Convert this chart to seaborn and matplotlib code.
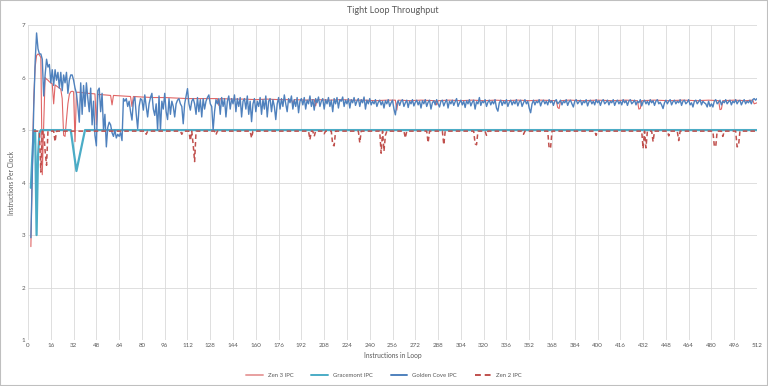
import matplotlib
matplotlib.use('Agg')
import matplotlib.pyplot as plt
import seaborn as sns
from matplotlib.patches import Rectangle

# Golden Cove IPC, one value per loop size starting at 2 instructions
golden_cove_ipc = [
    2.95, 4.2, 5.4, 6.3, 6.85, 6.55, 6.45, 6.45, 6.35, 5.65, 6.05, 6.35, 6.2, 6.25, 5.9, 6.15,
    5.85, 6.15, 5.95, 6.1, 5.8, 6.1, 5.75, 6.05, 5.9, 6.1, 5.7, 5.95, 6.05, 6.05, 5.95, 5.8,
    5.7, 5.45, 5.15, 5.9, 5.3, 5.85, 5.45, 5.9, 5.6, 5.35, 5.8, 5.1, 5.55, 4.9, 4.7, 5.75,
    5.8, 5.35, 5.7, 5.0, 5.3, 4.68, 5.05, 5.15, 5.1, 4.95, 4.88, 5.0, 4.85, 4.92, 4.88, 4.95,
    4.8, 5.6, 5.55, 5.6, 5.45, 5.55, 5.35, 5.19, 5.55, 5.63, 5.3, 5.03, 5.45, 5.6, 5.57, 5.38,
    5.67, 5.45, 5.25, 5.5, 5.62, 5.7, 5.4, 5.28, 5.5, 5.0, 5.65, 5.0, 5.55, 5.4, 5.7, 5.35,
    5.2, 5.6, 5.3, 5.55, 5.45, 5.25, 5.5, 5.57, 5.6, 5.5, 5.45, 5.12, 5.5, 5.65, 5.79, 5.5,
    5.38, 5.55, 5.6, 5.5, 5.3, 5.62, 5.35, 5.58, 5.25, 5.6, 5.4, 5.55, 5.62, 5.67, 5.5, 5.45,
    5.0, 5.35, 5.58, 5.5, 5.6, 5.3, 5.62, 5.45, 5.6, 5.25, 5.55, 5.65, 5.4, 5.6, 5.5, 5.67,
    5.35, 5.6, 5.45, 5.62, 5.25, 5.55, 5.6, 5.4, 5.65, 5.3, 5.55, 5.16, 5.5, 5.6, 5.35, 5.55,
    5.45, 5.62, 5.3, 5.58, 5.4, 5.65, 5.25, 5.55, 5.6, 5.35, 5.58, 5.45, 5.2, 5.5, 5.62, 5.4,
    5.6, 5.45, 5.67, 5.5, 5.35, 5.6, 5.52, 5.65, 5.4, 5.58, 5.45, 5.62, 5.33, 5.55, 5.6, 5.48,
    5.62, 5.4, 5.57, 5.5, 5.65, 5.45, 5.58, 5.38, 5.6, 5.52, 5.63, 5.45, 5.55, 5.6, 5.4, 5.58,
    5.5, 5.62, 5.45, 5.57, 5.35, 5.6, 5.5, 5.62, 5.42, 5.58, 5.55, 5.63, 5.45, 5.57, 5.5, 5.6,
    5.42, 5.58, 5.52, 5.62, 5.47, 5.55, 5.6, 5.45, 5.58, 5.52, 5.63, 5.4, 5.57, 5.5, 5.6, 5.48,
    5.55, 5.5, 5.58, 5.45, 5.53, 5.57, 5.48, 5.55, 5.42, 5.56, 5.5, 5.58, 5.45, 5.52, 5.57, 5.4,
    5.29, 5.5, 5.56, 5.47, 5.55, 5.58, 5.45, 5.52, 5.57, 5.43, 5.55, 5.5, 5.58, 5.46, 5.53, 5.57,
    5.48, 5.55, 5.42, 5.56, 5.5, 5.58, 5.45, 5.53, 5.57, 5.4, 5.52, 5.56, 5.48, 5.58, 5.5, 5.44,
    5.55, 5.57, 5.46, 5.53, 5.58, 5.42, 5.55, 5.5, 5.57, 5.47, 5.54, 5.6, 5.45, 5.52, 5.57, 5.48,
    5.55, 5.43, 5.56, 5.5, 5.58, 5.46, 5.53, 5.57, 5.4, 5.54, 5.5, 5.62, 5.47, 5.55, 5.52, 5.58,
    5.45, 5.53, 5.57, 5.48, 5.55, 5.5, 5.58, 5.42, 5.36, 5.52, 5.57, 5.47, 5.55, 5.5, 5.58, 5.45,
    5.53, 5.57, 5.48, 5.55, 5.5, 5.58, 5.46, 5.54, 5.57, 5.45, 5.52, 5.58, 5.5, 5.55, 5.42, 5.33,
    5.5, 5.57, 5.48, 5.55, 5.52, 5.58, 5.46, 5.54, 5.57, 5.5, 5.55, 5.48, 5.58, 5.52, 5.56, 5.47,
    5.55, 5.58, 5.5, 5.53, 5.57, 5.48, 5.55, 5.52, 5.58, 5.47, 5.54, 5.57, 5.5, 5.44, 5.55, 5.58,
    5.5, 5.54, 5.57, 5.48, 5.55, 5.52, 5.58, 5.46, 5.54, 5.57, 5.5, 5.55, 5.48, 5.58, 5.52, 5.56,
    5.47, 5.55, 5.58, 5.5, 5.53, 5.57, 5.48, 5.55, 5.52, 5.58, 5.47, 5.54, 5.57, 5.5, 5.55, 5.48,
    5.58, 5.52, 5.56, 5.47, 5.55, 5.58, 5.5, 5.53, 5.57, 5.48, 5.55, 5.52, 5.58, 5.46, 5.54, 5.57,
    5.5, 5.55, 5.48, 5.58, 5.52, 5.56, 5.47, 5.55, 5.58, 5.5, 5.53, 5.48, 5.41, 5.52, 5.57, 5.5,
    5.55, 5.58, 5.48, 5.54, 5.57, 5.5, 5.55, 5.52, 5.58, 5.47, 5.55, 5.57, 5.5, 5.53, 5.58, 5.48,
    5.52, 5.44, 5.55, 5.57, 5.5, 5.54, 5.58, 5.48, 5.55, 5.52, 5.5, 5.44, 5.55, 5.45, 5.5, 5.44,
    5.55, 5.58, 5.5, 5.53, 5.57, 5.48, 5.55, 5.52, 5.58, 5.5, 5.54, 5.57, 5.48, 5.55, 5.52, 5.58,
    5.5, 5.55, 5.57, 5.48, 5.54, 5.58, 5.5, 5.55, 5.52, 5.57, 5.5, 5.58, 5.6, 5.57, 5.6,
]
golden_cove_x = list(range(2, 2 + len(golden_cove_ipc)))

# Zen 3 IPC (loop size, value)
zen3_x = [2, 3, 4, 5, 6, 7, 8, 9, 10, 11, 12, 13, 14, 15, 16, 17, 18, 19, 20, 21, 22, 23, 24, 25,
          26, 27, 28, 29, 30, 31, 32, 33, 34,
          36, 42, 47, 48, 49, 54, 58, 59, 60, 66, 72, 73, 74, 80, 88, 96, 104, 112, 120, 128,
          133, 134, 135, 144, 152, 160, 168, 176, 185, 186, 187, 196, 201, 202, 203, 212, 220,
          228, 236, 244, 252, 258, 259, 260, 268, 276, 286, 287, 288, 296, 304, 312, 320, 328,
          336, 344, 352, 360, 371, 372, 373, 374, 380, 390, 400, 410, 420, 428, 429, 430, 431,
          440, 450, 460, 470, 478, 485, 486, 487, 488, 496, 504, 509, 510, 512]
zen3_ipc = [2.78, 4.3, 5.6, 6.2, 6.42, 6.45, 6.43, 6.38, 4.15, 5.1, 6.0, 5.97, 5.95, 5.92, 5.9, 5.88,
            5.5, 5.86, 5.84, 5.82, 5.8, 5.78, 5.6, 4.9,
            4.88, 5.2, 5.5, 5.68, 5.73, 5.74, 5.73, 4.78, 5.72,
            5.72, 5.7, 5.69, 5.1, 5.68, 5.67, 5.66, 5.48, 5.66, 5.65, 5.64, 5.45, 5.64, 5.63, 5.62, 5.62, 5.61, 5.6, 5.6, 5.6,
            5.6, 5.47, 5.6, 5.59, 5.59, 5.58, 5.59, 5.58, 5.58, 5.5, 5.58, 5.57, 5.58, 5.46, 5.58, 5.57, 5.58,
            5.57, 5.57, 5.56, 5.57, 5.57, 5.38, 5.57, 5.56, 5.57, 5.56, 5.48, 5.56, 5.57, 5.56, 5.57, 5.56, 5.57,
            5.56, 5.57, 5.56, 5.57, 5.56, 5.43, 5.41, 5.56, 5.57, 5.56, 5.57, 5.56, 5.57, 5.56, 5.4, 5.41, 5.56,
            5.57, 5.56, 5.57, 5.56, 5.57, 5.56, 5.39, 5.4, 5.56, 5.57, 5.56, 5.57, 5.5, 5.52]

# Gracemont IPC
gracemont_x = [2, 3, 4, 5, 6, 7, 8, 9, 30, 34, 40, 512]
gracemont_ipc = [3.9, 4.5, 5.0, 5.0, 3.0, 4.5, 4.95, 5.0, 5.0, 4.22, 5.0, 5.0]

# Zen 2 IPC
zen2_x = [4, 8, 9, 10, 11, 12, 13, 14, 18, 19, 20,
          82, 83, 84, 107, 108, 109, 113, 114, 115, 116, 117, 118,
          131, 132, 133, 156, 157, 158, 197, 198, 199, 200, 201, 202,
          207, 208, 209, 213, 214, 215, 216, 232, 233, 234,
          247, 248, 249, 250, 251, 252, 264, 265, 266, 280, 281, 282,
          291, 292, 293, 313, 314, 315, 316, 321, 322, 323,
          347, 348, 349, 365, 366, 367, 368, 398, 399, 400,
          431, 432, 433, 434, 435, 438, 439, 440, 449, 450, 451,
          456, 457, 458, 481, 482, 483, 484, 487, 488, 489,
          497, 498, 499, 500, 512]
zen2_ipc = [4.98, 4.98, 4.2, 4.98, 4.98, 4.6, 4.33, 4.98, 4.98, 4.78, 4.98,
            4.98, 4.92, 4.98, 4.98, 4.92, 4.98, 4.98, 4.8, 4.98, 4.72, 4.4, 4.98,
            4.98, 4.91, 4.98, 4.98, 4.85, 4.98, 4.98, 4.82, 4.98, 4.98, 4.88, 4.98,
            4.98, 4.93, 4.98, 4.98, 4.72, 4.7, 4.98, 4.98, 4.76, 4.98,
            4.98, 4.56, 4.98, 4.6, 4.9, 4.98, 4.98, 4.85, 4.98, 4.98, 4.76, 4.98,
            4.98, 4.72, 4.98, 4.98, 4.74, 4.72, 4.98, 4.98, 4.9, 4.98,
            4.98, 4.92, 4.98, 4.98, 4.65, 4.66, 4.98, 4.98, 4.9, 4.98,
            4.98, 4.65, 4.98, 4.66, 4.98, 4.98, 4.78, 4.98, 4.98, 4.89, 4.98,
            4.98, 4.8, 4.98, 4.98, 4.7, 4.68, 4.98, 4.98, 4.88, 4.98,
            4.98, 4.68, 4.7, 4.98, 4.98]

x_ticks = list(range(0, 513, 16))
y_ticks = [1, 2, 3, 4, 5, 6, 7]

sns.set_theme(style='whitegrid')
plt.rcParams['font.family'] = ['Lato', 'DejaVu Sans']
text_gray = '#595959'

fig, ax = plt.subplots(figsize=(7.68, 3.86), dpi=100)
fig.subplots_adjust(left=0.0365, right=0.9857, top=0.935, bottom=0.119)

sns.lineplot(x=zen3_x, y=zen3_ipc, ax=ax, color='#E06666', linewidth=0.8, label='Zen 3 IPC')
sns.lineplot(x=gracemont_x, y=gracemont_ipc, ax=ax, color='#4BACC6', linewidth=1.6, label='Gracemont IPC')
sns.lineplot(x=golden_cove_x, y=golden_cove_ipc, ax=ax, color='#4F81BD', linewidth=1.0, label='Golden Cove IPC')
sns.lineplot(x=zen2_x, y=zen2_ipc, ax=ax, color='#C0504D', linewidth=1.1, linestyle='--', label='Zen 2 IPC')
ax.lines[-1].set_dashes([3, 2])

ax.set_xlim(0, 512)
ax.set_ylim(1, 7)
ax.set_xticks(x_ticks)
ax.set_yticks(y_ticks)
ax.grid(True, color='#D9D9D9', linewidth=0.6)
for s in ax.spines.values():
    s.set_visible(False)
ax.tick_params(length=0, labelsize=4.5, labelcolor=text_gray, pad=2)

ax.set_title('Tight Loop Throughput', fontsize=6.5, color=text_gray, pad=9)
ax.set_xlabel('Instructions in Loop', fontsize=4.8, color=text_gray, labelpad=3)
ax.set_ylabel('Instructions Per Clock', fontsize=4.8, color=text_gray, labelpad=5)

handles, labels = ax.get_legend_handles_labels()
ax.get_legend().remove()
leg = fig.legend(handles, labels, loc='center', bbox_to_anchor=(0.5, 0.028), ncol=4,
                 frameon=False, fontsize=4.3, handlelength=2.8, columnspacing=3.0,
                 labelcolor=text_gray)
for line, c in zip(leg.get_lines(), ['#E8A0A0', '#4BACC6', '#4F81BD', '#C0504D']):
    line.set_color(c)
    line.set_linewidth(1.4)

fig.patches.append(Rectangle((0, 0), 1, 1, transform=fig.transFigure, fill=False,
                             edgecolor='#BFBFBF', linewidth=1.5))

fig.savefig('out.png', dpi=100)
